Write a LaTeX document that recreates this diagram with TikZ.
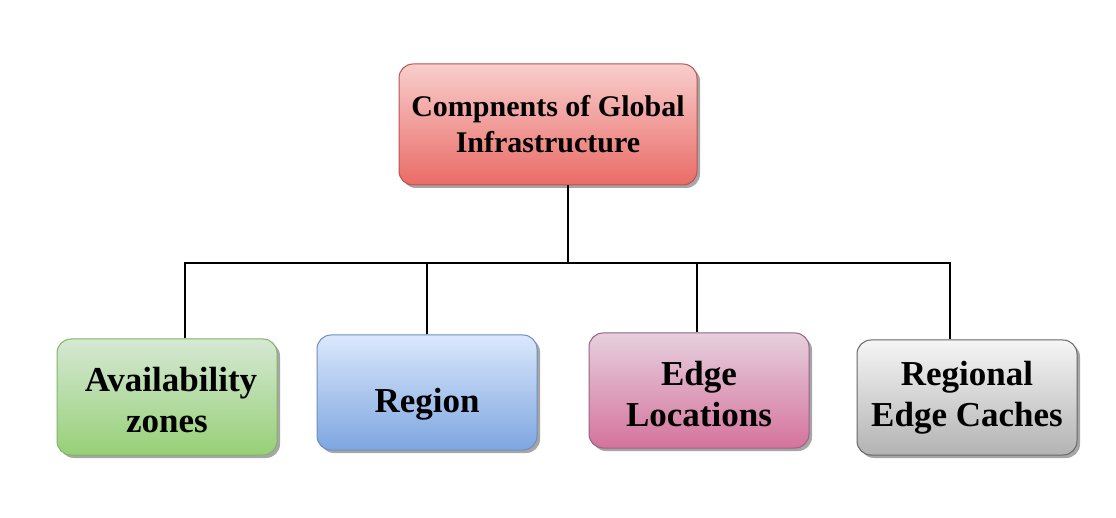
\documentclass[tikz,border=0pt]{standalone}
\usepackage{fontspec}
\setmainfont{Liberation Serif}
\usetikzlibrary{shadows}
\definecolor{redtop}{HTML}{F8CECC}\definecolor{redbot}{HTML}{EA6B66}\definecolor{redline}{HTML}{B85450}
\definecolor{grntop}{HTML}{D5E8D4}\definecolor{grnbot}{HTML}{97D077}\definecolor{grnline}{HTML}{82B366}
\definecolor{blutop}{HTML}{DAE8FC}\definecolor{blubot}{HTML}{7EA6E0}\definecolor{bluline}{HTML}{6C8EBF}
\definecolor{pnktop}{HTML}{E6D0DE}\definecolor{pnkbot}{HTML}{D5739D}\definecolor{pnkline}{HTML}{996185}
\definecolor{grytop}{HTML}{F5F5F5}\definecolor{grybot}{HTML}{B3B3B3}\definecolor{gryline}{HTML}{666666}
\tikzset{
  box/.style={rectangle, rounded corners=14pt, line width=1pt, align=center, inner sep=0pt,
    font=\bfseries\fontsize{35}{41}\selectfont,
    drop shadow={shadow xshift=3pt, shadow yshift=-3pt, opacity=0.35, fill=black}},
  link/.style={line width=2.5pt, black},
}
\begin{document}
\begin{tikzpicture}[x=1pt,y=-1pt]
\useasboundingbox (0,0) rectangle (1116,518);
\node[box, draw=redline, top color=redtop, bottom color=redbot, minimum width=298pt, minimum height=121pt,
  font=\bfseries\fontsize{30}{36}\selectfont] (top) at (548,124.5) {Compnents of Global\\Infrastructure};
\node[box, draw=grnline, top color=grntop, bottom color=grnbot, minimum width=220pt, minimum height=116pt] (az) at (167,397) {\raisebox{-3pt}[\height][0pt]{\hspace*{8pt}Availability}\\\raisebox{-3pt}[\height][0pt]{zones}};
\node[box, draw=bluline, top color=blutop, bottom color=blubot, minimum width=220pt, minimum height=115pt] (rg) at (427,392.5) {\raisebox{-8pt}[\height][0pt]{Region}};
\node[box, draw=pnkline, top color=pnktop, bottom color=pnkbot, minimum width=220pt, minimum height=115pt] (el) at (699,390.5) {\raisebox{-3pt}[\height][0pt]{Edge}\\\raisebox{-3pt}[\height][0pt]{Locations}};
\node[box, draw=gryline, top color=grytop, bottom color=grybot, minimum width=220pt, minimum height=115pt] (rc) at (967,397.5) {Regional\\Edge Caches};
\coordinate (bus) at (568,263);
\draw[link] (568,0 |- top.south) -- (bus);
\draw[link] (az.north -| 185,0) |- (bus);
\draw[link] (rc.north -| 950,0) |- (bus);
\draw[link] (rg.north -| 427,0) -- (427,263);
\draw[link] (el.north -| 697,0) -- (697,263);
\end{tikzpicture}
\end{document}
